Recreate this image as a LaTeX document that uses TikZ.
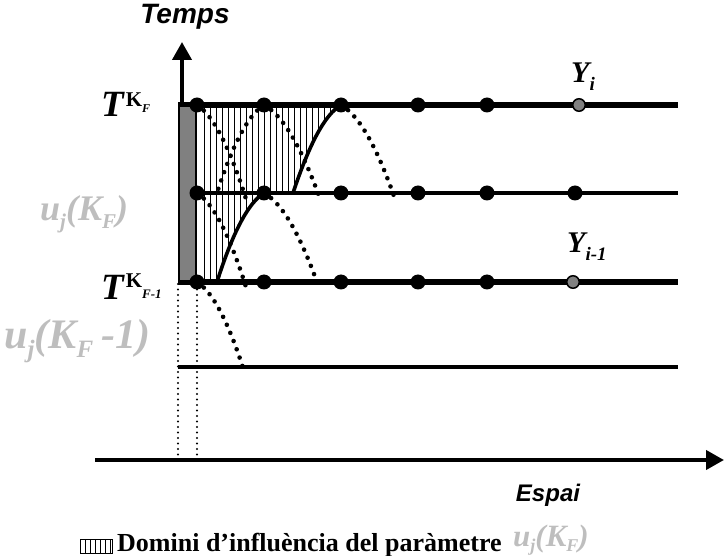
\documentclass[tikz,border=0pt]{standalone}
\usepackage{fontspec}
\setmainfont{Liberation Serif}
\setsansfont{Liberation Sans}
\usetikzlibrary{arrows.meta}
\definecolor{lgray}{RGB}{190,190,190}
\definecolor{mgray}{RGB}{128,128,128}
\newcommand{\fsz}[1]{\fontsize{#1}{#1}\selectfont}
\begin{document}
\begin{tikzpicture}[x=1pt,y=-1pt,
  dot/.style={circle,fill=black,inner sep=0pt,minimum size=15pt},
  gdot/.style={circle,fill=mgray,draw=black,line width=1.5pt,inner sep=0pt,minimum size=12.5pt},
  thickline/.style={line width=6.5pt},
  thinline/.style={line width=3.5pt},
  dotarc/.style={line width=4.6pt,line cap=round,dash pattern=on 0pt off 8.8pt},
  vdots/.style={line width=2.4pt,line cap=round,dash pattern=on 0pt off 5.5pt},
  solidcurve/.style={line width=3.6pt},
  hatch/.style={line width=0.8pt},
  lbl/.style={inner sep=0pt,anchor=base west,font=\bfseries\itshape},
  axisline/.style={line width=4pt,-{Triangle[length=18pt,width=19pt]}},
]
\useasboundingbox (0,0) rectangle (724,556);

% hatched domain
\begin{scope}
\clip (197,105) -- (342,105) .. controls +(-16.3,9.7) and +(16.4,-49) .. (293,193)
  -- (264,193) .. controls +(-15.7,9.8) and +(15.7,-49.5) .. (217,282) -- (197,282) -- cycle;
\foreach \x in {204,210,...,340} \draw[hatch] (\x,100) -- (\x,290);
\end{scope}

% coordinates
\coordinate (axb) at (182,105);
\coordinate (axt) at (182,42);
\coordinate (hxl) at (95,460);
\coordinate (hxr) at (724,460);
\coordinate (tl) at (178,105); \coordinate (tr) at (678,105);
\coordinate (ml) at (178,193); \coordinate (mr) at (678,193);
\coordinate (bl) at (178,282); \coordinate (br) at (678,282);
\coordinate (ll) at (178,367); \coordinate (lr) at (678,367);
\coordinate (v1t) at (178,284); \coordinate (v1b) at (178,460);
\coordinate (v2t) at (197,284); \coordinate (v2b) at (197,460);

% axes
\draw[axisline] (axb) -- (axt);
\draw[axisline] (hxl) -- (hxr);

% dotted verticals
\draw[vdots] (v1t) -- (v1b);
\draw[vdots] (v2t) -- (v2b);

% horizontal lines
\draw[thickline] (tl) -- (tr);
\draw[thinline] (ml) -- (mr);
\draw[thickline] (bl) -- (br);
\draw[thinline] (ll) -- (lr);

% grey bar
\node[draw,fill=mgray,line width=2.5pt,minimum width=17pt,minimum height=175pt,inner sep=0pt] (bar) at (187.5,193.5) {};

% dots
\foreach \n/\x in {1/197,2/264,3/341,4/418,5/487}{
  \node[dot] (t\n) at (\x,105) {};
  \node[dot] (m\n) at (\x,193) {};
  \node[dot] (b\n) at (\x,282) {};
}
\node[gdot] (t6) at (579,105) {};
\node[dot] (m6) at (575,193) {};
\node[gdot] (b6) at (573,282) {};

% arc end points
\coordinate (e1) at (246,199);
\coordinate (e2) at (216,196);
\coordinate (e3) at (319,196);
\coordinate (e4) at (395,199);
\coordinate (e5) at (246,287);
\coordinate (e6) at (318,285);
\coordinate (e7) at (245,374);
\coordinate (s1) at (293,193);
\coordinate (s2) at (217,282);

% dotted arcs
\draw[dotarc] (t1.center) .. controls +(16.3,10.3) and +(-16.4,-51.7) .. (e1);
\draw[dotarc] (t2.center) .. controls +(-16,10) and +(16.1,-50.6) .. (e2);
\draw[dotarc] (t2.center) .. controls +(18.3,10) and +(-18.4,-50.6) .. (e3);
\draw[dotarc] (t3.center) .. controls +(18,10.3) and +(-18,-52) .. (e4);
\draw[dotarc] (m1.center) .. controls +(16.3,10.3) and +(-16.4,-52) .. (e5);
\draw[dotarc] (m2.center) .. controls +(18,10) and +(-18,-51) .. (e6);
\draw[dotarc] (b1.center) .. controls +(16,10) and +(-16,-51) .. (e7);

% solid curves
\draw[solidcurve] (t3.center) .. controls +(-16.3,9.7) and +(16.4,-49) .. (s1);
\draw[solidcurve] (m2.center) .. controls +(-15.7,9.8) and +(15.7,-49.5) .. (s2);

% labels
\node[font=\sffamily\bfseries\itshape\fsz{28}] (temps) at (185,17) {Temps};
\node[font=\sffamily\bfseries\itshape\fsz{24}] (espai) at (548,495) {Espai};

\node[lbl] (tkf) at (101,117) {\fsz{37}T\kern2pt\raisebox{10pt}{\fsz{21}\upshape K}\raisebox{4pt}{\fsz{12}F}};
\node[lbl] (tkf1) at (101,300) {\fsz{37}T\kern2pt\raisebox{12pt}{\fsz{21}\upshape K}\raisebox{1pt}{\fsz{13}F-1}};

\node[lbl,text=lgray] (uj) at (40,221) {\fsz{36}u\raisebox{-8pt}{\fsz{21}j}(K\raisebox{-8pt}{\fsz{21}F})};
\node[lbl,text=lgray] (uj1) at (4,349) {\fsz{42}u\raisebox{-9pt}{\fsz{25}j}(K\raisebox{-9pt}{\fsz{25}F}\hspace{8pt}-1)};

\node[lbl] (yi) at (571,83) {\fsz{30}Y\raisebox{-8pt}{\fsz{19}i}};
\node[lbl] (yi1) at (567,253) {\fsz{30}Y\raisebox{-8pt}{\fsz{19}i-1}};

% legend
\node[draw,line width=1pt,minimum width=32pt,minimum height=14pt,inner sep=0pt] (legbox) at (96.5,546.5) {};
\foreach \x in {85,90,...,110} \draw[hatch] (\x,539.5) -- (\x,553.5);
\node[inner sep=0pt,anchor=base west,font=\bfseries\fsz{26}] (legtext) at (117,551) {Domini d’influència del paràmetre};
\node[lbl,text=lgray] (leguj) at (513,547) {\fsz{31}u\raisebox{-5pt}{\fsz{18}j}(K\raisebox{-5pt}{\fsz{18}F})};
\end{tikzpicture}
\end{document}
